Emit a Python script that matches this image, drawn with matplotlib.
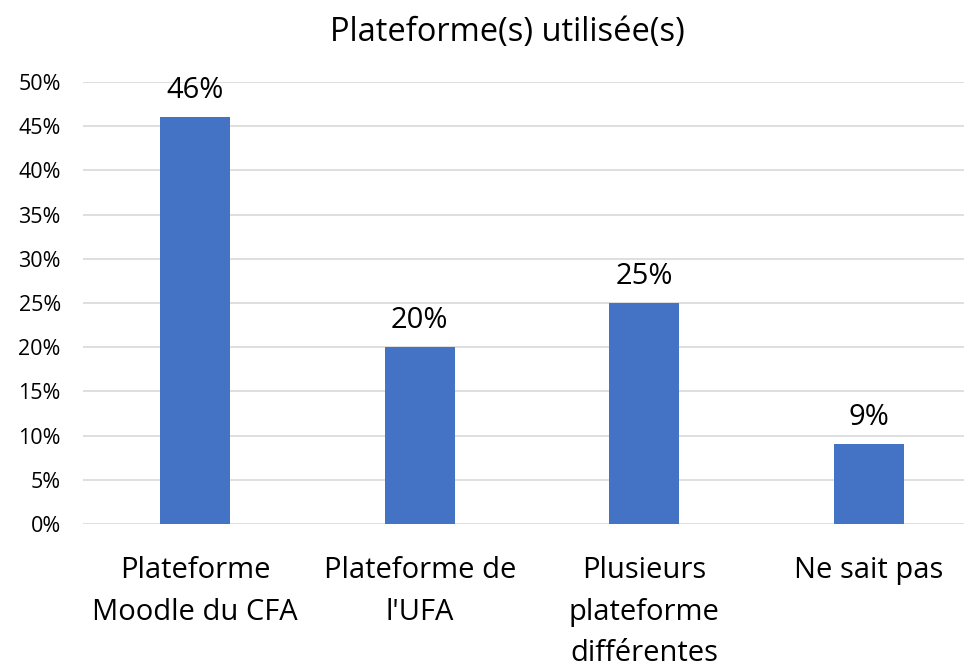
import matplotlib.pyplot as plt
from matplotlib.ticker import PercentFormatter

plt.rcParams['font.family'] = ['Open Sans', 'DejaVu Sans']

# data
categories = ['Plateforme\nMoodle du CFA', "Plateforme de\nl'UFA",
              'Plusieurs\nplateforme\ndifférentes', 'Ne sait pas']
values = [0.46, 0.20, 0.25, 0.09]
labels = ['46%', '20%', '25%', '9%']
yticks = [0, 0.05, 0.10, 0.15, 0.20, 0.25, 0.30, 0.35, 0.40, 0.45, 0.50]

fig = plt.figure(figsize=(9.64, 6.67), dpi=100)
ax = fig.add_axes([83 / 964, 143 / 667, 1 - 83 / 964, 442 / 667])

x = range(len(categories))
bars = ax.bar(x, values, width=0.312, color='#4472C4', zorder=3)

# value labels above the bars
for b, lab in zip(bars, labels):
    ax.annotate(lab, (b.get_x() + b.get_width() / 2, b.get_height()),
                xytext=(0, 9), textcoords='offset points',
                ha='center', va='bottom', fontsize=21, color='#000000')

ax.set_xlim(-0.5, 3.425)
ax.set_ylim(0, 0.5)
ax.set_yticks(yticks)
ax.yaxis.set_major_formatter(PercentFormatter(1.0, decimals=0))
ax.set_xticks(list(x))
ax.set_xticklabels(categories, fontsize=21, linespacing=1.58)
ax.tick_params(axis='y', labelsize=15.5, length=0, pad=16)
ax.tick_params(axis='x', length=0, pad=23)

ax.grid(axis='y', color='#D9D9D9', linewidth=1.2, zorder=0)
for s in ax.spines.values():
    s.set_visible(False)

fig.text(507 / 964, 1 - 33 / 667, 'Plateforme(s) utilisée(s)',
         ha='center', va='center', fontsize=23.5)

fig.savefig('out.png', dpi=100)
